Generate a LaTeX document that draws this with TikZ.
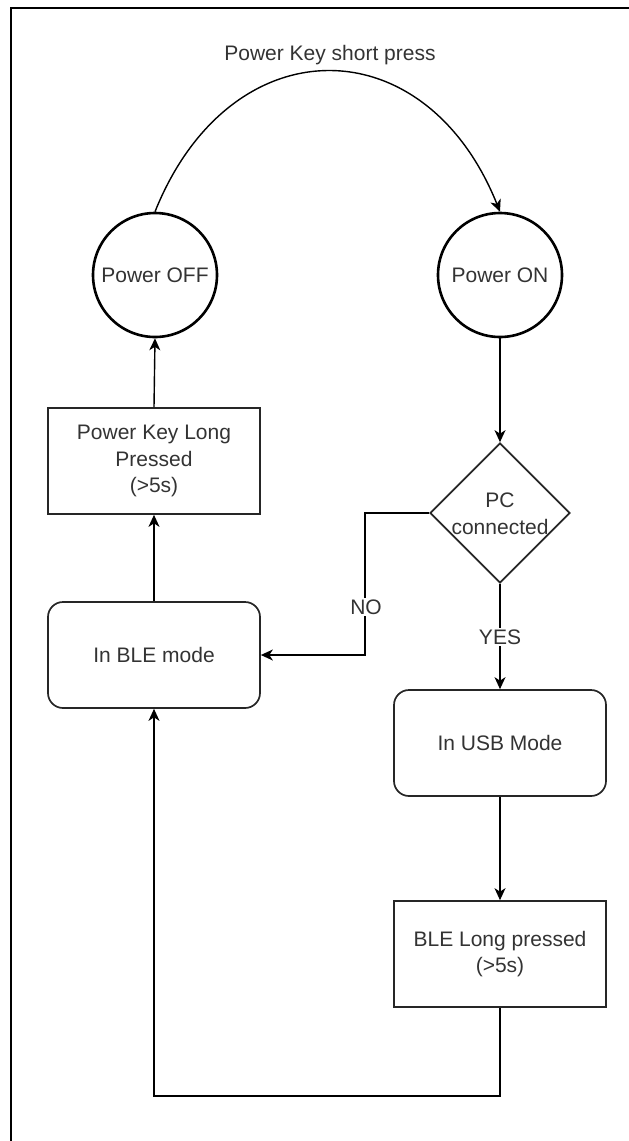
\documentclass[tikz,border=0pt]{standalone}
\usepackage{fontspec}
\setmainfont{Liberation Sans}
\usetikzlibrary{arrows.meta,shapes.geometric,calc}
\definecolor{textc}{RGB}{51,51,51}
\tikzset{
  every node/.style={font=\fontsize{21}{26.5}\selectfont, text=textc},
  state/.style={circle, draw=black, line width=2.6pt, minimum size=124pt, inner sep=0pt},
  plainbox/.style={rectangle, draw=black!85, line width=1.7pt, minimum width=212pt, minimum height=106pt, inner sep=2pt, align=center},
  roundbox/.style={plainbox, rounded corners=15pt},
  decision/.style={diamond, draw=black!85, line width=1.7pt, minimum width=140pt, minimum height=140pt, inner sep=0pt},
  conn/.style={draw=black, line width=1.4pt, -{Stealth[length=12pt,width=11pt,inset=3.5pt]}},
  lab/.style={fill=white, inner sep=1.5pt}
}
\begin{document}
\begin{tikzpicture}[x=1pt,y=-1pt]
\useasboundingbox (0,0) rectangle (629,1141);
\draw[line width=2.6pt] (11,1145) -- (11,8) -- (633,8);

\node[state] (off) at (155,275) {Power OFF};
\node[state] (on) at (500,275) {Power ON};
\node[decision] (pc) at (500,513) {};
\node[align=center, inner sep=0pt] (pctext) at (500,514) {PC\\connected};
\node[plainbox] (pkl) at (154,461) {Power Key Long\\Pressed\\(>5s)};
\node[roundbox] (ble) at (154,655) {In BLE mode};
\node[roundbox] (usb) at (500,743) {In USB Mode};
\node[plainbox] (blel) at (500,954) {BLE Long pressed\\(>5s)};

\draw[conn] (off.north) .. controls ($(off.north)+(75,-187)$) and ($(on.north)+(-75,-187)$) .. (on.north);
\node (short) at (330,55) {Power Key short press};

\draw[conn] (on.south) -- (pc.north);
\draw[conn] (pc.west) -- ++(-64,0) |- (ble.east);
\node[lab] (no) at (366,607) {NO};
\draw[conn] (pc.south) -- (usb.north);
\node[lab] (yes) at (500,637) {YES};
\draw[conn] (usb.south) -- (blel.north);
\draw[conn] (blel.south) -- ++(0,88) -| (ble.south);
\draw[conn] (ble.north) -- (pkl.south);
\draw[conn] (pkl.north) -- (off.south);
\end{tikzpicture}
\end{document}
